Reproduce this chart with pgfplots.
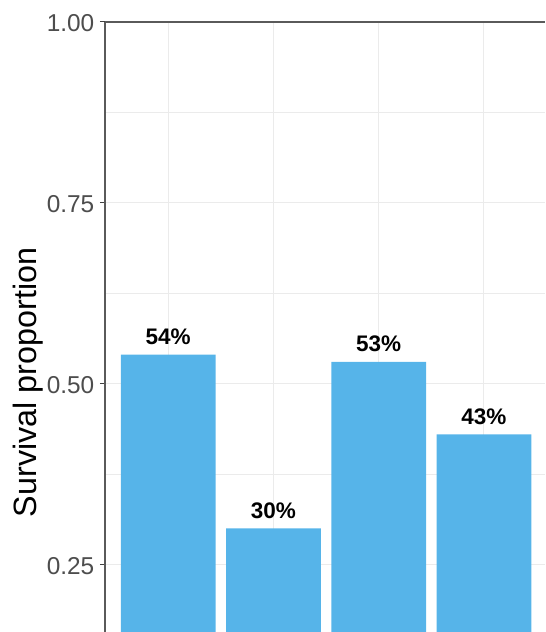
\documentclass[border=0pt]{standalone}
\usepackage{fontspec}
\setmainfont{Liberation Sans}
\usepackage{pgfplots}
\pgfplotsset{compat=1.18}
\usetikzlibrary{calc}
\definecolor{barblue}{HTML}{56B4E9}
\definecolor{gridgray}{HTML}{EBEBEB}
\definecolor{ticklab}{HTML}{4D4D4D}
\definecolor{axline}{HTML}{5A5A5A}
\begin{document}
\begin{tikzpicture}
\begin{axis}[
  name=ax, scale only axis, width=440pt, height=610pt,
  xmin=-0.6, xmax=3.58, ymin=0.1567, ymax=1,
  axis x line=top, axis y line=left,
  axis line style={-, draw=axline, line width=1.1pt},
  xtick={0,1,2,3}, xticklabels={}, major x tick style={draw=none},
  ytick={0.25,0.5,0.75,1}, minor ytick={0.375,0.625,0.875},
  grid=both,
  major grid style={draw=gridgray, line width=1pt},
  minor grid style={draw=gridgray, line width=0.6pt},
  tick align=outside, major tick length=5pt, minor tick length=0pt,
  y tick style={draw=black!75, line width=1pt},
  /pgf/number format/assume math mode=true,
  yticklabel style={font=\fontsize{24.4}{28}\selectfont, text=ticklab, anchor=east, inner sep=0pt, xshift=-5.5pt, yshift=-1.5pt,
     /pgf/number format/.cd, fixed, fixed zerofill, precision=2},
  ylabel={Survival proportion},
  every axis y label/.style={at={(axis description cs:-0.1568,0.4092)}, rotate=90, anchor=base, font=\fontsize{32.3}{36}\selectfont},
  ybar, bar width=0.9,
  nodes near coords, point meta=explicit symbolic,
  every node near coord/.append style={font=\bfseries\fontsize{22.5}{26}\selectfont, anchor=base, inner sep=0pt, yshift=10pt, text=black},
]
\addplot[fill=barblue, draw=none] coordinates {(0,0.54) [54\%] (1,0.30) [30\%] (2,0.53) [53\%] (3,0.43) [43\%]};
\end{axis}
\pgfresetboundingbox
\path[use as bounding box] ($(ax.south west)+(-105pt,0)$) rectangle ($(ax.north east)+(0,22pt)$);
\end{tikzpicture}
\end{document}
